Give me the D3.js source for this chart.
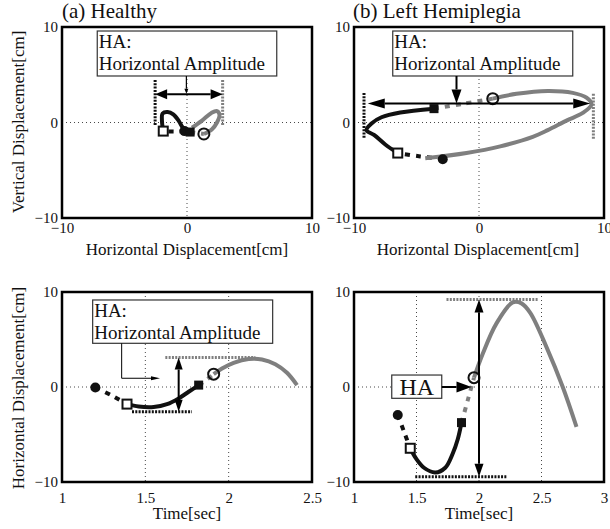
<!DOCTYPE html>
<html>
<head>
<meta charset="utf-8">
<script src="https://cdn.jsdelivr.net/npm/d3@7"></script>
<style>
body { margin: 0; background: #fff; }
</style>
</head>
<body>
<script>
// ---- data ----
// (a) healthy: vertical vs horizontal displacement [cm]
var a_dashBlack = [[-0.2, -0.9], [-1.0, -0.95], [-1.9, -0.9]];
var a_solidBlack = [[-1.9, -0.9], [-2.0, 0.1], [-1.95, 0.95], [-1.55, 1.1], [-1.1, 0.85], [-0.65, 0.15], [-0.3, -0.6], [0.25, -1.0]];
var a_dashGray = [[0.25, -1.0], [0.8, -1.1], [1.35, -1.2]];
var a_solidGray = [[1.35, -1.2], [2.0, -0.7], [2.4, 0.0], [2.6, 0.8], [2.4, 1.2], [1.95, 1.0], [1.2, 0.2], [0.4, -0.55]];
var a_marks = { fc: [-0.2, -0.9], os: [-1.9, -0.9], fs: [0.25, -1.0], oc: [1.35, -1.2] };

// (b) left hemiplegia: vertical vs horizontal displacement [cm]
var b_dashBlack = [[-2.9, -3.8], [-4.7, -3.55], [-6.5, -3.2]];
var b_solidBlack = [[-6.5, -3.2], [-7.5, -2.3], [-8.4, -1.3], [-9.0, -0.8], [-8.6, -0.1], [-7.8, 0.55], [-6.3, 1.05], [-3.6, 1.45]];
var b_dashGray = [[-3.6, 1.45], [-1.3, 1.95], [1.1, 2.5]];
var b_solidGray = [[1.1, 2.5], [3.0, 3.0], [5.5, 3.3], [7.5, 3.1], [8.6, 2.6], [9.0, 1.9], [8.3, 1.0], [7.0, 0.2], [5.5, -0.8], [4.3, -1.5], [1.7, -2.5], [-1.0, -3.2], [-4.3, -3.75]];
var b_marks = { fc: [-2.9, -3.85], os: [-6.5, -3.2], fs: [-3.6, 1.45], oc: [1.1, 2.5] };

// (c) healthy: horizontal displacement vs time
var c_dashBlack = [[1.2, -0.05], [1.3, -0.9], [1.39, -1.8]];
var c_solidBlack = [[1.39, -1.8], [1.46, -2.05], [1.55, -2.1], [1.63, -1.8], [1.7, -1.2], [1.76, -0.5], [1.82, 0.2]];
var c_dashGray = [[1.82, 0.2], [1.87, 0.8], [1.91, 1.35]];
var c_solidGray = [[1.91, 1.35], [1.96, 1.95], [2.03, 2.55], [2.12, 2.95], [2.2, 2.9], [2.28, 2.4], [2.35, 1.5], [2.41, 0.2]];
var c_marks = { fc: [1.2, -0.05], os: [1.39, -1.8], fs: [1.82, 0.2], oc: [1.91, 1.35] };

// (d) left hemiplegia: horizontal displacement vs time
var d_dashBlack = [[1.35, -2.95], [1.4, -4.7], [1.45, -6.45]];
var d_solidBlack = [[1.45, -6.45], [1.5, -7.6], [1.56, -8.5], [1.65, -9.0], [1.73, -8.5], [1.79, -7.0], [1.83, -5.5], [1.86, -3.75]];
var d_dashGray = [[1.86, -3.75], [1.91, -1.4], [1.96, 0.98]];
var d_solidGray = [[1.96, 0.98], [2.03, 3.5], [2.14, 6.7], [2.27, 8.9], [2.34, 8.8], [2.41, 7.8], [2.54, 4.2], [2.67, 0.0], [2.78, -4.2]];
var d_marks = { fc: [1.35, -2.95], os: [1.45, -6.45], fs: [1.86, -3.75], oc: [1.96, 0.98] };

var xyTicks = [-10, 0, 10];
var c_timeTicks = [1, 1.5, 2, 2.5];
var d_timeTicks = [1, 1.5, 2, 2.5, 3];

var width = 610, height = 529;
var black = "#111", gray = "#7f7f7f";
var serif = "'Liberation Serif', 'Times New Roman', serif";

var svg = d3.select("body").append("svg")
    .attr("width", width)
    .attr("height", height);

svg.append("rect").attr("width", width).attr("height", height).attr("fill", "#fff");

var panels = [
    { box: [62, 27, 312, 218], xDom: [-10, 10], xTicks: xyTicks, gridX: [0], tickPad: 4,
      dashBlack: a_dashBlack, solidBlack: a_solidBlack, dashGray: a_dashGray, solidGray: a_solidGray, marks: a_marks },
    { box: [354, 27, 604, 218], xDom: [-10, 10], xTicks: xyTicks, gridX: [0], tickPad: 4,
      dashBlack: b_dashBlack, solidBlack: b_solidBlack, dashGray: b_dashGray, solidGray: b_solidGray, marks: b_marks },
    { box: [62, 292, 312, 482], xDom: [1, 2.5], xTicks: c_timeTicks, gridX: [1.5, 2], tickPad: 10,
      dashBlack: c_dashBlack, solidBlack: c_solidBlack, dashGray: c_dashGray, solidGray: c_solidGray, marks: c_marks },
    { box: [354, 292, 604, 482], xDom: [1, 3], xTicks: d_timeTicks, gridX: [1.5, 2, 2.5], tickPad: 10,
      dashBlack: d_dashBlack, solidBlack: d_solidBlack, dashGray: d_dashGray, solidGray: d_solidGray, marks: d_marks }
];

var fmt = function(d) { return d3.format("")(d); };

// arrow head with tip at (x2,y2), returns base point
function head(g, x1, y1, x2, y2, len, wid) {
    var a = Math.atan2(y2 - y1, x2 - x1);
    var bx = x2 - len * Math.cos(a), by = y2 - len * Math.sin(a);
    var nx = -Math.sin(a) * wid / 2, ny = Math.cos(a) * wid / 2;
    g.append("path")
        .attr("d", "M" + x2 + "," + y2 + "L" + (bx + nx) + "," + (by + ny) + "L" + (bx - nx) + "," + (by - ny) + "Z")
        .attr("fill", "#000");
    return [bx, by];
}

function arrow(g, x1, y1, x2, y2, len, wid, sw, both) {
    var e = head(g, x1, y1, x2, y2, len, wid);
    var s = [x1, y1];
    if (both) s = head(g, x2, y2, x1, y1, len, wid);
    g.append("line")
        .attr("x1", s[0]).attr("y1", s[1]).attr("x2", e[0]).attr("y2", e[1])
        .attr("stroke", "#000").attr("stroke-width", sw);
}

panels.forEach(function(p) {
    p.x = d3.scaleLinear().domain(p.xDom).range([p.box[0], p.box[2]]);
    p.y = d3.scaleLinear().domain([-10, 10]).range([p.box[3], p.box[1]]);
    var g = svg.append("g");
    p.g = g;

    // dotted grid
    g.selectAll(".gx").data(p.gridX).enter().append("line")
        .attr("x1", function(d) { return p.x(d); }).attr("x2", function(d) { return p.x(d); })
        .attr("y1", p.box[1]).attr("y2", p.box[3])
        .attr("stroke", "#333").attr("stroke-width", 0.9).attr("stroke-dasharray", "1,3");
    g.append("line")
        .attr("x1", p.box[0]).attr("x2", p.box[2])
        .attr("y1", p.y(0)).attr("y2", p.y(0))
        .attr("stroke", "#333").attr("stroke-width", 0.9).attr("stroke-dasharray", "1,3");

    var line = d3.line()
        .x(function(d) { return p.x(d[0]); })
        .y(function(d) { return p.y(d[1]); })
        .curve(d3.curveCatmullRom);

    g.append("path").attr("d", line(p.dashBlack)).attr("fill", "none")
        .attr("stroke", black).attr("stroke-width", 4).attr("stroke-dasharray", "5,6");
    g.append("path").attr("d", line(p.solidBlack)).attr("fill", "none")
        .attr("stroke", black).attr("stroke-width", 4).attr("stroke-linecap", "butt");
    g.append("path").attr("d", line(p.dashGray)).attr("fill", "none")
        .attr("stroke", gray).attr("stroke-width", 4).attr("stroke-dasharray", "5,6");
    g.append("path").attr("d", line(p.solidGray)).attr("fill", "none")
        .attr("stroke", gray).attr("stroke-width", 4);

    var m = p.marks;
    g.append("circle").attr("cx", p.x(m.fc[0])).attr("cy", p.y(m.fc[1])).attr("r", 5).attr("fill", black);
    g.append("rect").attr("x", p.x(m.os[0]) - 4.5).attr("y", p.y(m.os[1]) - 4.5)
        .attr("width", 9).attr("height", 9).attr("fill", "#fff").attr("stroke", black).attr("stroke-width", 2);
    g.append("rect").attr("x", p.x(m.fs[0]) - 4.5).attr("y", p.y(m.fs[1]) - 4.5)
        .attr("width", 9).attr("height", 9).attr("fill", black);
    g.append("circle").attr("cx", p.x(m.oc[0])).attr("cy", p.y(m.oc[1])).attr("r", 5.5)
        .attr("fill", "none").attr("stroke", black).attr("stroke-width", 2);

    // axes: labels only
    var ax = g.append("g").attr("transform", "translate(0," + p.box[3] + ")")
        .call(d3.axisBottom(p.x).tickValues(p.xTicks).tickFormat(fmt).tickSize(0).tickPadding(p.tickPad));
    var ay = g.append("g").attr("transform", "translate(" + p.box[0] + ",0)")
        .call(d3.axisLeft(p.y).tickValues(xyTicks).tickFormat(fmt).tickSize(0).tickPadding(4));
    [ax, ay].forEach(function(a) {
        a.attr("font-family", serif).attr("font-size", 15);
        a.select(".domain").remove();
        a.selectAll("text").attr("fill", "#111");
    });
});

// range markers (thick dotted)
function vDot(p, xv, y1, y2, col) {
    p.g.append("line").attr("x1", p.x(xv)).attr("x2", p.x(xv)).attr("y1", p.y(y1)).attr("y2", p.y(y2))
        .attr("stroke", col).attr("stroke-width", 3).attr("stroke-dasharray", "2,1.3");
}
function hDot(p, x1, x2, yv, col) {
    p.g.append("line").attr("x1", p.x(x1)).attr("x2", p.x(x2)).attr("y1", p.y(yv)).attr("y2", p.y(yv))
        .attr("stroke", col).attr("stroke-width", 3).attr("stroke-dasharray", "2,1.3");
}
function haBox(p, x1, x2, y1, y2, twoLine) {
    var X1 = p.x(x1), X2 = p.x(x2), Y1 = p.y(y1), Y2 = p.y(y2);
    p.g.append("rect").attr("x", X1).attr("y", Y1).attr("width", X2 - X1).attr("height", Y2 - Y1)
        .attr("fill", "#fff").attr("stroke", "#333").attr("stroke-width", 1.2);
    if (twoLine) {
        p.g.append("text").attr("x", X1 + 1.5).attr("y", Y1 + 17).attr("font-size", 19).text("HA:");
        p.g.append("text").attr("x", X1 + 1.5).attr("y", Y1 + 39).attr("font-size", 19).text("Horizontal Amplitude");
    } else {
        p.g.append("text").attr("x", (X1 + X2) / 2).attr("y", (Y1 + Y2) / 2 + 8.5)
            .attr("text-anchor", "middle").attr("font-size", 24).text("HA");
    }
}

var pa = panels[0], pb = panels[1], pc = panels[2], pd = panels[3];

// (a)
vDot(pa, -2.55, 4.45, -0.3, black);
vDot(pa, 2.85, 4.45, -0.3, gray);
arrow(pa.g, pa.x(-2.55), pa.y(2.95), pa.x(2.85), pa.y(2.95), 12, 10, 2, true);
haBox(pa, -7.18, 7.18, 9.58, 4.87, true);
arrow(pa.g, pa.x(-0.05), pa.y(4.87), pa.x(-0.05), pa.y(3.0), 5, 4, 1.2, false);

// (b)
vDot(pb, -9.2, 3.1, -1.7, black);
vDot(pb, 9.15, 3.0, -1.7, gray);
arrow(pb.g, pb.x(-8.9), pb.y(2.0), pb.x(8.9), pb.y(2.0), 17, 10, 2, true);
haBox(pb, -6.9, 7.5, 9.58, 4.87, true);
arrow(pb.g, pb.x(-1.8), pb.y(4.87), pb.x(-1.8), pb.y(2.0), 14, 10, 2, false);

// (c)
hDot(pc, 1.62, 2.16, 3.1, gray);
hDot(pc, 1.42, 1.78, -2.6, black);
arrow(pc.g, pc.x(1.7), pc.y(-2.6), pc.x(1.7), pc.y(3.1), 12, 8, 2, true);
haBox(pc, 1.184, 2.264, 9.16, 4.6, true);
pc.g.append("path")
    .attr("d", "M" + pc.x(1.358) + "," + pc.y(4.6) + "V" + pc.y(0.92) + "H" + (pc.x(1.588) - 8))
    .attr("fill", "none").attr("stroke", "#000").attr("stroke-width", 1);
head(pc.g, pc.x(1.4), pc.y(0.92), pc.x(1.588), pc.y(0.92), 9, 4);

// (d)
hDot(pd, 1.74, 2.47, 9.2, gray);
hDot(pd, 1.49, 2.22, -9.45, black);
arrow(pd.g, pd.x(2.0), pd.y(-9.45), pd.x(2.0), pd.y(9.2), 13, 9, 2, true);
haBox(pd, 1.302, 1.702, 1.26, -1.19, false);
arrow(pd.g, pd.x(1.702), pd.y(0), pd.x(1.94), pd.y(0), 15, 11, 2, false);

// frames on top
panels.forEach(function(p) {
    svg.append("rect").attr("x", p.box[0]).attr("y", p.box[1])
        .attr("width", p.box[2] - p.box[0]).attr("height", p.box[3] - p.box[1])
        .attr("fill", "none").attr("stroke", "#000").attr("stroke-width", 2.5);
});

// titles and axis labels
svg.append("text").attr("x", 62).attr("y", 18).attr("font-size", 21).text("(a) Healthy");
svg.append("text").attr("x", 353).attr("y", 18).attr("font-size", 21).text("(b) Left Hemiplegia");

svg.append("text").attr("x", 187).attr("y", 255).attr("text-anchor", "middle").attr("font-size", 17)
    .text("Horizontal Displacement[cm]");
svg.append("text").attr("x", 478).attr("y", 255).attr("text-anchor", "middle").attr("font-size", 17)
    .text("Horizontal Displacement[cm]");
svg.append("text").attr("transform", "translate(24,122) rotate(-90)").attr("text-anchor", "middle")
    .attr("font-size", 17).text("Vertical Displacement[cm]");
svg.append("text").attr("transform", "translate(24,388) rotate(-90)").attr("text-anchor", "middle")
    .attr("font-size", 17).text("Horizontal Displacement[cm]");
svg.append("text").attr("x", 187).attr("y", 519).attr("text-anchor", "middle").attr("font-size", 17).text("Time[sec]");
svg.append("text").attr("x", 479).attr("y", 519).attr("text-anchor", "middle").attr("font-size", 17).text("Time[sec]");

svg.selectAll("text").style("font-family", serif).style("fill", "#111");
</script>
</body>
</html>
